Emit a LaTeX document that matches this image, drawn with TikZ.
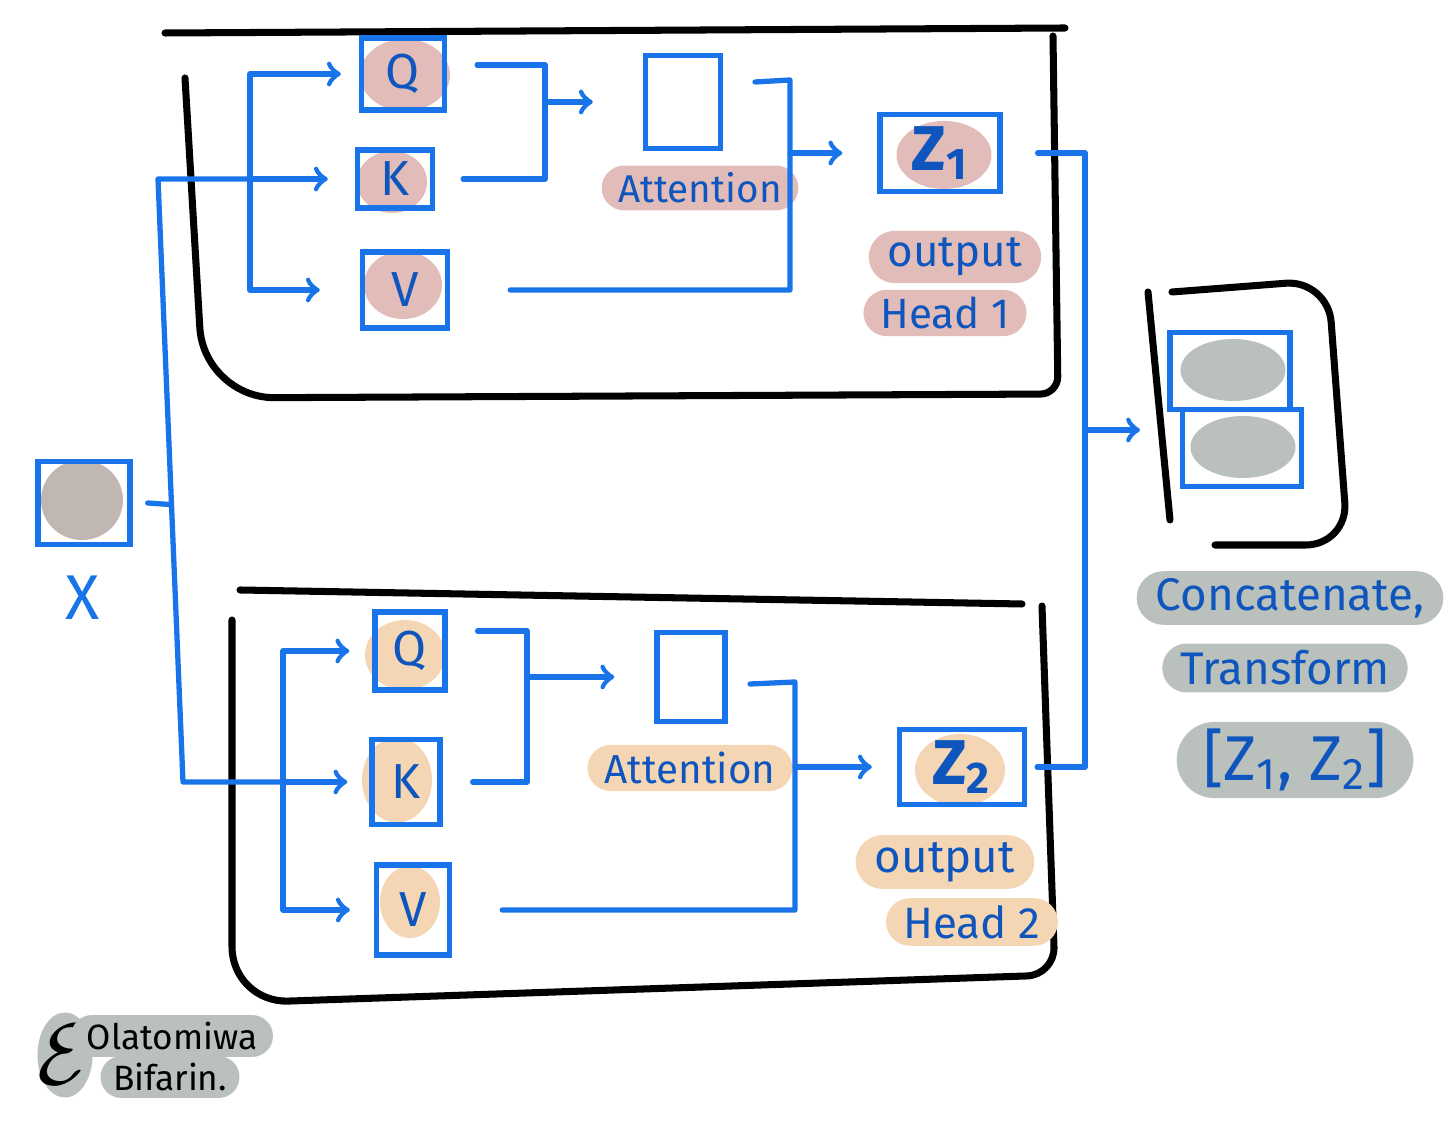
\documentclass[tikz,border=0pt]{standalone}
\usepackage{fontspec}
\setmainfont{Fira Sans}
\usepackage{tikz}
\usetikzlibrary{shapes.geometric, shapes.misc, arrows, calc}
\definecolor{penblue}{RGB}{24,116,232}
\definecolor{inkblue}{RGB}{14,86,190}
\definecolor{rosehl}{RGB}{226,188,184}
\definecolor{peachhl}{RGB}{245,214,180}
\definecolor{greyhl}{RGB}{186,192,187}
\definecolor{taupehl}{RGB}{192,182,178}
\tikzstyle{pen} = [penblue, line width=1.5pt, line cap=round, line join=round]
\tikzstyle{arrow} = [pen,->,>=to]
\tikzstyle{frame} = [black, line width=2pt, line cap=round, line join=round]
\tikzstyle{matbox} = [draw=penblue, line width=1.5pt, text=inkblue, inner sep=0pt, font=\fontsize{14}{16}\selectfont]
\tikzstyle{blob} = [ellipse, inner sep=0pt]
\tikzstyle{tag} = [rounded rectangle, text=inkblue, inner xsep=3pt, inner ysep=2pt, font=\fontsize{12}{14}\selectfont]

\begin{document}
\begin{tikzpicture}[x=0.01cm, y=-0.01cm]
        \useasboundingbox (0,0) rectangle (1456,1125);

        % Head frames
        \draw[frame] (165,33) -- (1065,28);
        \draw[frame] (185,78) [rounded corners=20pt] -- (204,398) [rounded corners=5pt] -- (1058,394) -- (1053,36);
        \draw[frame] (240,590) -- (1022,604);
        \draw[frame] (232,620) [rounded corners=16pt] -- (232,1003) [rounded corners=8pt] -- (1055,975) -- (1042,606);

        % Highlights
        \node[blob, fill=rosehl, minimum width=0.9cm, minimum height=0.72cm] (hlQa) at (405,75) {};
        \node[blob, fill=rosehl, minimum width=0.7cm, minimum height=0.62cm] (hlKa) at (392,182) {};
        \node[blob, fill=rosehl, minimum width=0.78cm, minimum height=0.68cm] (hlVa) at (403,285) {};
        \node[blob, fill=rosehl, minimum width=0.95cm, minimum height=0.68cm] (hlZa) at (944,155) {};
        \node[blob, fill=peachhl, minimum width=0.8cm, minimum height=0.7cm] (hlQb) at (405,655) {};
        \node[blob, fill=peachhl, minimum width=0.7cm, minimum height=0.85cm] (hlKb) at (397,780) {};
        \node[blob, fill=peachhl, minimum width=0.6cm, minimum height=0.72cm] (hlVb) at (410,902) {};
        \node[blob, fill=peachhl, minimum width=0.9cm, minimum height=0.72cm] (hlZb) at (960,770) {};
        \node[blob, fill=taupehl, minimum width=0.82cm, minimum height=0.8cm] (hlX) at (82,500) {};
        \node[blob, fill=greyhl, minimum width=1.05cm, minimum height=0.62cm] (hlCatA) at (1233,370) {};
        \node[blob, fill=greyhl, minimum width=1.05cm, minimum height=0.62cm] (hlCatB) at (1243,447) {};
        \node[blob, fill=greyhl, minimum width=0.55cm, minimum height=0.85cm] (sigBlob) at (65,1055) {};

        % Node positions
        \node[matbox, minimum width=0.92cm, minimum height=0.83cm] (Xin) at (84,503) {};
        \node[text=penblue, font=\fontsize{18}{20}\selectfont] (Xlabel) at (83,598) {X};

        \node[matbox, minimum width=0.83cm, minimum height=0.72cm] (Qa) at (403,74) {Q};
        \node[matbox, minimum width=0.75cm, minimum height=0.58cm] (Ka) at (395,179) {K};
        \node[matbox, minimum width=0.85cm, minimum height=0.76cm] (Va) at (405,290) {V};
        \node[matbox, minimum width=0.75cm, minimum height=0.93cm] (AttBoxA) at (683,102) {};
        \node[tag, fill=rosehl, font=\fontsize{11}{13}\selectfont] (AttA) at (700,188) {Attention};
        \node[matbox, minimum width=1.2cm, minimum height=0.77cm, font=\fontsize{18}{20}\selectfont\bfseries] (Za) at (940,153) {Z\textsubscript{1}};
        \node[tag, fill=rosehl, font=\fontsize{12.5}{15}\selectfont] (OutA) at (955,257) {output};
        \node[tag, fill=rosehl] (HeadA) at (945,313) {Head 1};

        \node[matbox, minimum width=0.7cm, minimum height=0.78cm] (Qb) at (410,651) {Q};
        \node[matbox, minimum width=0.68cm, minimum height=0.85cm] (Kb) at (406,782) {K};
        \node[matbox, minimum width=0.73cm, minimum height=0.9cm] (Vb) at (413,910) {V};
        \node[matbox, minimum width=0.68cm, minimum height=0.89cm] (AttBoxB) at (691,677) {};
        \node[tag, fill=peachhl, font=\fontsize{11.5}{13}\selectfont] (AttB) at (690,768) {Attention};
        \node[matbox, minimum width=1.25cm, minimum height=0.75cm, font=\fontsize{18}{20}\selectfont\bfseries] (Zb) at (962,767) {Z\textsubscript{2}};
        \node[tag, fill=peachhl, font=\fontsize{13}{15}\selectfont] (OutB) at (945,862) {output};
        \node[tag, fill=peachhl, font=\fontsize{12.5}{15}\selectfont] (HeadB) at (972,922) {Head 2};

        \node[matbox, minimum width=1.2cm, minimum height=0.77cm] (catA) at (1230,371) {};
        \node[matbox, minimum width=1.19cm, minimum height=0.77cm] (catB) at (1242,448) {};
        \node[tag, fill=greyhl, font=\fontsize{13}{15}\selectfont] (catText) at (1290,598) {Concatenate,};
        \node[tag, fill=greyhl, font=\fontsize{13}{15}\selectfont] (catTf) at (1285,668) {Transform};
        \node[tag, fill=greyhl, font=\fontsize{18}{20}\selectfont] (catZ) at (1295,760) {[Z\textsubscript{1}, Z\textsubscript{2}]};

        \node[font=\fontsize{24}{26}\selectfont] (sigMark) at (65,1055) {$\mathcal{E}$};
        \node[tag, fill=greyhl, text=black, font=\fontsize{10}{12}\selectfont, minimum width=1.65cm] (sigFirst) at (172,1036) {Olatomiwa};
        \node[tag, fill=greyhl, text=black, font=\fontsize{10}{12}\selectfont, minimum width=1.6cm] (sigLast) at (170,1077) {Bifarin.};

        \coordinate (trunkTop) at (158,179);
        \coordinate (trunkBot) at (183,782);
        \coordinate (splitA) at (250,0);
        \coordinate (joinA) at (545,0);
        \coordinate (mergeA) at (790,80);
        \coordinate (splitB) at (283,0);
        \coordinate (joinB) at (527,0);
        \coordinate (mergeB) at (795,682);
        \coordinate (collect) at (1085,0);
        \coordinate (catIn) at (1140,430);

        % Input
        \draw[pen] ([xshift=1.5mm]Xin.east) -- ($(trunkTop)!0.54!(trunkBot)$);
        \draw[pen] (splitA |- Ka) -- (trunkTop) -- (trunkBot) -- (splitB |- Kb);

        % Head 1
        \draw[pen] (splitA |- Qa) -- (splitA |- Va);
        \draw[arrow, shorten >=1.8mm] (splitA |- Qa) -- (Qa);
        \draw[arrow, shorten >=2.7mm] (splitA |- Ka) -- (Ka);
        \draw[arrow, shorten >=4mm] (splitA |- Va) -- (Va);
        \draw[pen] ($(Qa.east)+(30,-9)$) -- ($(joinA |- Qa)+(0,-9)$) -- (joinA |- Ka) -- ([xshift=2.8mm]Ka.east);
        \draw[arrow, shorten >=5mm] (joinA |- AttBoxA) -- (AttBoxA);
        \draw[pen] ([xshift=6mm]Va.east) -- (mergeA |- Va) -- (mergeA) -- ++(-35,2);
        \draw[arrow, shorten >=3.5mm] (mergeA |- Za) -- (Za);

        % Head 2
        \draw[pen] (splitB |- Qb) -- (splitB |- Vb);
        \draw[arrow, shorten >=2.3mm] (splitB |- Qb) -- (Qb);
        \draw[arrow, shorten >=2.2mm] (splitB |- Kb) -- (Kb);
        \draw[arrow, shorten >=2.4mm] (splitB |- Vb) -- (Vb);
        \draw[pen] ($(Qb.east)+(30,-20)$) -- ($(joinB |- Qb)+(0,-20)$) -- (joinB |- Kb) -- ([xshift=3mm]Kb.east);
        \draw[arrow, shorten >=4mm] (joinB |- AttBoxB) -- (AttBoxB);
        \draw[pen] ([xshift=5mm]Vb.east) -- (mergeB |- Vb) -- (mergeB) -- ++(-45,2);
        \draw[arrow, shorten >=2.5mm] (mergeB |- Zb) -- (Zb);

        % Concatenate
        \draw[pen] ([xshift=3.5mm]Za.east) -- (collect |- Za) -- (collect |- Zb) -- ([xshift=1mm]Zb.east);
        \draw[arrow] (collect |- catIn) -- (catIn);
        \draw[frame] (1148,292) -- (1170,520);
        \draw[frame, rounded corners=12pt] (1172,292) -- (1328,280) -- (1348,545) -- (1215,545);

      \end{tikzpicture}
\end{document}
